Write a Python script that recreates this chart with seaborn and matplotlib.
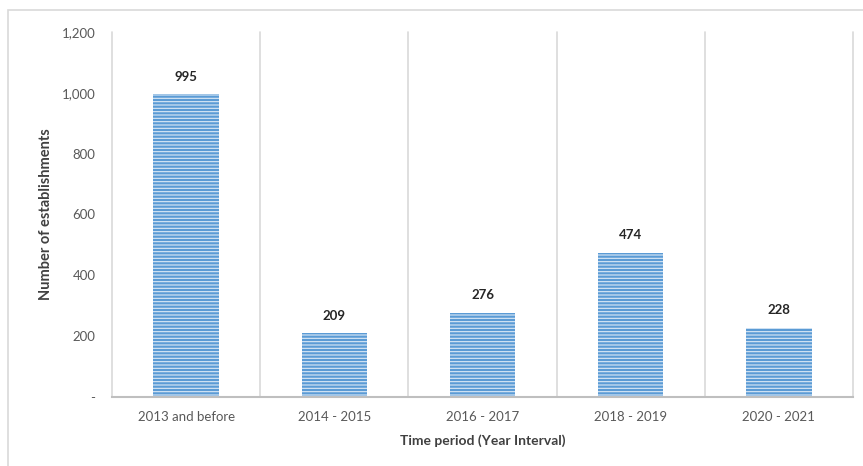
import matplotlib
matplotlib.use("Agg")
import matplotlib.pyplot as plt
import matplotlib.ticker as mticker
from matplotlib.patches import Rectangle
import seaborn as sns
import pandas as pd

# data
periods = ["2013 and before", "2014 - 2015", "2016 - 2017", "2018 - 2019", "2020 - 2021"]
counts = [995, 209, 276, 474, 228]

df = pd.DataFrame({"period": periods, "count": counts})

sns.set_style("white")
plt.rcParams["font.family"] = ["Lato", "DejaVu Sans"]
plt.rcParams["hatch.linewidth"] = 0.8

fig = plt.figure(figsize=(8.63, 4.66), dpi=100)
ax = fig.add_axes([112 / 863, 69 / 466, 741 / 863, 365 / 466])

sns.barplot(data=df, x="period", y="count", color="#5b9bd5", width=0.44,
            saturation=1, edgecolor="#dbe9f6", linewidth=0, hatch="-----", ax=ax)

# labels above bars
for i, v in enumerate(counts):
    ax.text(i, v + 38, f"{v:,}", ha="center", va="bottom",
            fontsize=9.5, fontweight="bold", color="#262626")

ax.set_ylim(0, 1200)
ax.set_xlim(-0.5, 4.5)
ax.yaxis.set_major_locator(mticker.MultipleLocator(200))
ax.yaxis.set_major_formatter(mticker.FuncFormatter(lambda v, p: "-" if v == 0 else f"{v:,.0f}"))

# vertical separators between categories (incl. both edges)
for x in range(6):
    ax.axvline(x - 0.5, color="#d9d9d9", linewidth=1.2, clip_on=False, zorder=0)
ax.grid(False)
ax.tick_params(axis="both", which="both", length=0, labelsize=9.5, colors="#595959")
ax.tick_params(axis="x", pad=10)
ax.tick_params(axis="y", pad=12)

for s in ["top", "right", "left"]:
    ax.spines[s].set_visible(False)
ax.spines["bottom"].set_color("#bfbfbf")
ax.spines["bottom"].set_linewidth(1.5)

ax.set_xlabel("Time period (Year Interval)", fontsize=10, fontweight="bold",
              color="#404040", labelpad=8)
ax.set_ylabel("Number of establishments", fontsize=10.5, fontweight="bold",
              color="#404040", labelpad=6)

# outer chart frame
fig.patches.append(Rectangle((8 / 863, -0.05), 1.1, 1 - 10 / 466 + 0.05,
                             transform=fig.transFigure, fill=False,
                             edgecolor="#d9d9d9", linewidth=1.2))

fig.savefig("out.png", dpi=100)
